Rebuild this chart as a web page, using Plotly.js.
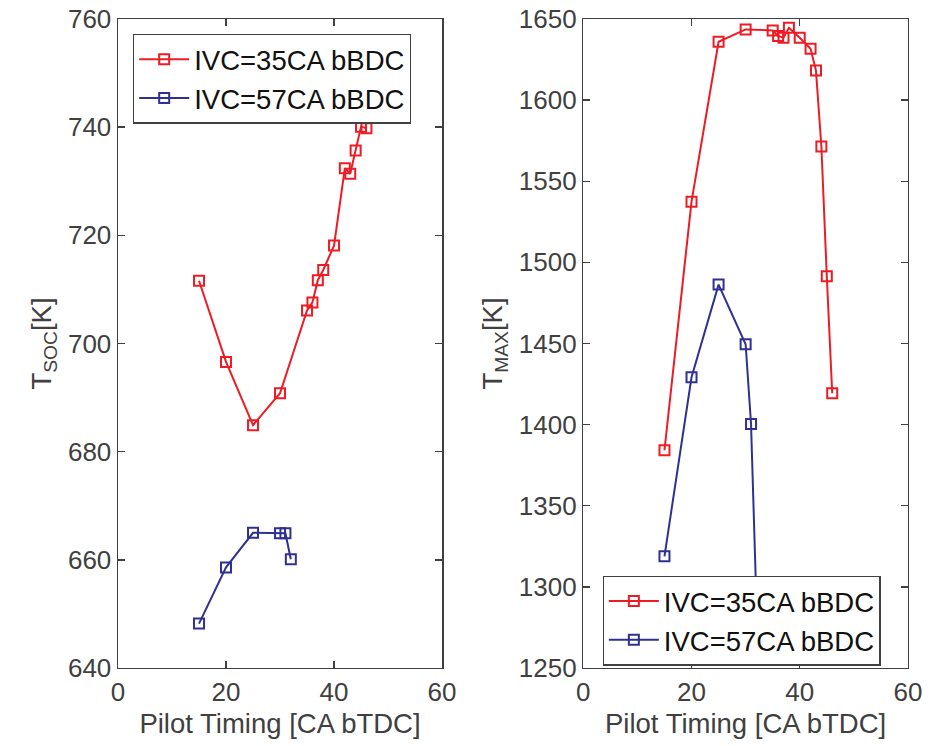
<!DOCTYPE html>
<html><head><meta charset="utf-8">
<script src="https://cdn.plot.ly/plotly-3.0.1.min.js"></script>
<style>html,body{margin:0;padding:0;background:#fff}#c{width:930px;height:746px}</style>
</head><body><div id="c"></div>
<script>
// Left panel: T_SOC
const socX35 = [15, 20, 25, 30, 35, 36, 37, 38, 40, 42, 43, 44, 45, 46];
const socY35 = [711.6, 696.6, 684.9, 690.8, 706.1, 707.6, 711.7, 713.6, 718.1, 732.4, 731.4, 735.7, 740.1, 739.8];
const socX57 = [15, 20, 25, 30, 31, 32];
const socY57 = [648.2, 658.6, 665.0, 664.9, 664.9, 660.1];
// Right panel: T_MAX
const maxX35 = [15, 20, 25, 30, 35, 36, 37, 38, 40, 42, 43, 44, 45, 46];
const maxY35 = [1384.2, 1537.4, 1636.0, 1643.6, 1643.0, 1639.5, 1638.5, 1644.6, 1638.5, 1631.7, 1618.2, 1571.4, 1491.4, 1419.3];
const maxX57 = [15, 20, 25, 30, 31, 32];
const maxY57 = [1318.8, 1429.2, 1486.3, 1449.5, 1400.4, 1290];
const names = ['IVC=35CA bBDC', 'IVC=57CA bBDC'];
const xTicks = [0, 20, 40, 60];

const RED = 'rgb(237,28,36)', BLUE = 'rgb(46,49,146)', AX = 'rgb(64,64,64)';
const FONT = 'Liberation Sans, Arial, sans-serif';

function tr(x, y, name, color, xa, ya, legend) {
  return {x, y, name, type: 'scatter', mode: 'lines+markers', xaxis: xa, yaxis: ya, legend,
    line: {color, width: 2},
    marker: {symbol: 'square-open', size: 10, color, line: {color, width: 2}}};
}
const data = [
  tr(socX35, socY35, names[0], RED, 'x', 'y', 'legend'),
  tr(socX57, socY57, names[1], BLUE, 'x', 'y', 'legend'),
  tr(maxX35, maxY35, names[0], RED, 'x2', 'y2', 'legend2'),
  tr(maxX57, maxY57, names[1], BLUE, 'x2', 'y2', 'legend2')
];
const axBase = {showgrid: false, zeroline: false, showline: true, mirror: 'ticks', linecolor: AX, linewidth: 1.5,
  ticks: 'inside', ticklen: 7, tickwidth: 1.5, tickcolor: AX, tickfont: {family: FONT, size: 26, color: AX}};
const xTitle = {text: 'Pilot Timing [CA bTDC]', font: {family: FONT, size: 27.5, color: AX}, standoff: 8};
const legBase = {bgcolor: 'white', bordercolor: AX, borderwidth: 1.2, font: {family: FONT, size: 27.5, color: '#111'},
  xanchor: 'left', yanchor: 'top', tracegroupgap: 0, itemwidth: 50};
const layout = {
  width: 930, height: 746, margin: {l: 0, r: 0, t: 0, b: 0}, paper_bgcolor: 'white', plot_bgcolor: 'white',
  showlegend: true,
  xaxis: Object.assign({}, axBase, {domain: [0.1269, 0.4753], range: [0, 60], tickvals: xTicks, anchor: 'y', title: xTitle}),
  yaxis: Object.assign({}, axBase, {domain: [0.1046, 0.9745], range: [640, 760], dtick: 20, anchor: 'x',
    title: {text: 'T<sub>SOC</sub>[K]', font: {family: FONT, size: 27.5, color: AX}, standoff: 8}}),
  xaxis2: Object.assign({}, axBase, {domain: [0.6272, 0.9763], range: [0, 60], tickvals: xTicks, anchor: 'y2', title: xTitle}),
  yaxis2: Object.assign({}, axBase, {domain: [0.1046, 0.9745], range: [1250, 1650], dtick: 50, anchor: 'x2',
    title: {text: 'T<sub>MAX</sub>[K]', font: {family: FONT, size: 27.5, color: AX}, standoff: 8}}),
  legend: Object.assign({}, legBase, {x: 0.143, y: 0.955}),
  legend2: Object.assign({}, legBase, {x: 0.648, y: 0.2285})
};
Plotly.newPlot('c', data, layout, {displayModeBar: false, staticPlot: true});
</script></body></html>
